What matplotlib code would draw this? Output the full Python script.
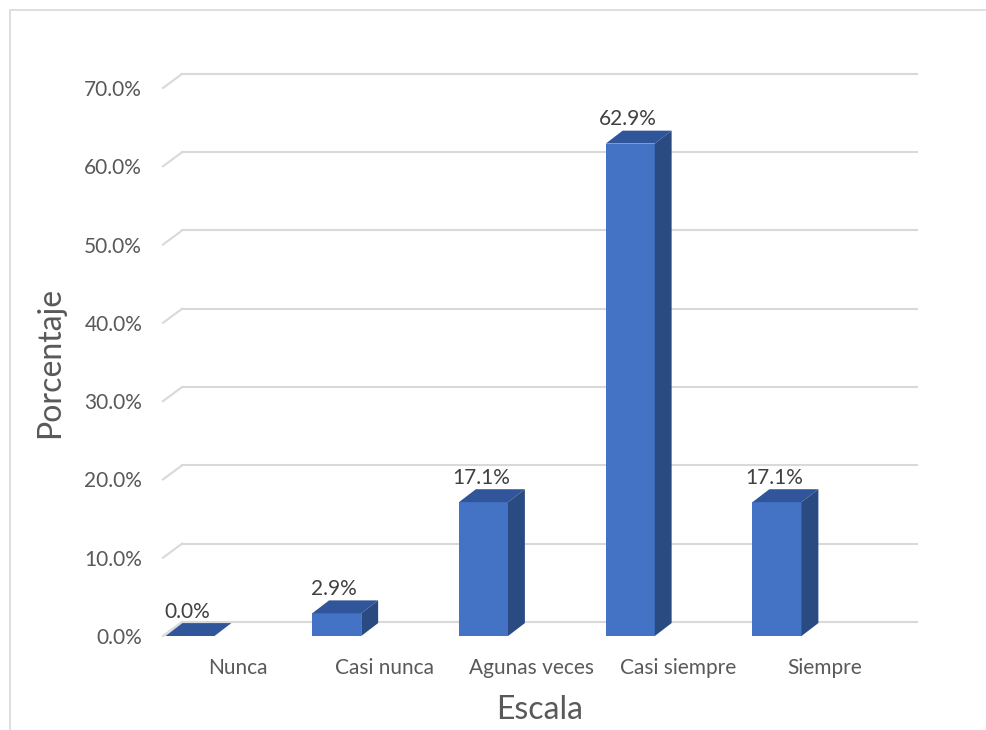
import matplotlib
matplotlib.use("Agg")
import matplotlib.pyplot as plt
from matplotlib.patches import Polygon, Rectangle

categories = ["Nunca", "Casi nunca", "Agunas veces", "Casi siempre", "Siempre"]
values = [0.0, 2.9, 17.1, 62.9, 17.1]
yticks = [0, 10, 20, 30, 40, 50, 60, 70]

front = "#4472C4"
top_c = "#30559A"
side_c = "#2A4A82"
grid_c = "#D9D9D9"
text_c = "#595959"

plt.rcParams["font.family"] = ["Lato", "DejaVu Sans"]

fig = plt.figure(figsize=(9.87, 7.30), dpi=100)
ax = fig.add_axes([163 / 987, 94 / 730, 754 / 987, 548 / 730])
ax.set_xlim(-0.184, 4.954)
ax.set_ylim(0, 70)
for s in ax.spines.values():
    s.set_visible(False)

# depth offsets (data units)
gdx, gdy = 0.13, 1.8
bdx, bdy = 0.115, 1.65
w = 0.334

# gridlines: short diagonal on the floor side + line on back wall
x0 = -0.184
for t in yticks:
    ax.plot([x0, x0 + gdx], [t, t + gdy], color=grid_c, lw=1.5, clip_on=False, zorder=1)
    ax.plot([x0 + gdx, 4.954], [t + gdy, t + gdy], color=grid_c, lw=1.5, clip_on=False, zorder=1)

ax.set_yticks(yticks)
ax.set_yticklabels([f"{t:.1f}%" for t in yticks], fontsize=15, color=text_c)
ax.tick_params(axis="y", length=0, pad=15)
ax.set_xticks([i + 0.327 for i in range(len(categories))])
ax.set_xticklabels(categories, fontsize=15, color=text_c)
ax.tick_params(axis="x", length=0, pad=16)

for i, v in enumerate(values):
    xl = i - w / 2
    xr = i + w / 2
    ax.add_patch(Rectangle((xl, 0), w, v, facecolor=front, edgecolor="none", zorder=3))
    ax.add_patch(Polygon([(xl, v), (xr, v), (xr + bdx, v + bdy), (xl + bdx, v + bdy)],
                         closed=True, facecolor=top_c, edgecolor="none", zorder=3))
    ax.add_patch(Polygon([(xr, 0), (xr + bdx, bdy), (xr + bdx, v + bdy), (xr, v)],
                         closed=True, facecolor=side_c, edgecolor="none", zorder=3))
    ax.annotate(f"{v:.1f}%", (i, v + bdy), xytext=(-2, 1), textcoords="offset points",
                ha="center", va="bottom", fontsize=15, color="#404040", zorder=4)

ax.set_xlabel("Escala", fontsize=23, color=text_c, labelpad=12)
ax.set_ylabel("Porcentaje", fontsize=23, color=text_c, labelpad=14)

# chart area border
fig.add_artist(Rectangle((10 / 987, -0.01), 1.0, (720 / 730) + 0.01, transform=fig.transFigure,
                         fill=False, edgecolor=grid_c, lw=1.2))

fig.savefig("out.png", dpi=100)
